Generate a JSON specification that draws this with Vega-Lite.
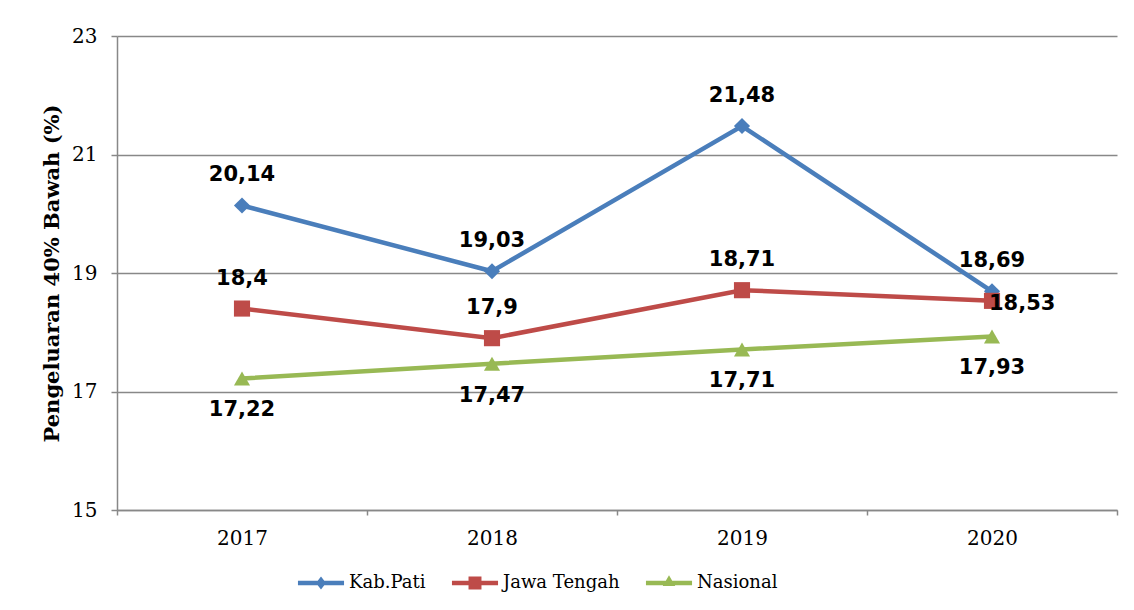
{
  "$schema": "https://vega.github.io/schema/vega-lite/v6.json",
  "width": 1000,
  "height": 474,
  "autosize": {"type": "none"},
  "padding": {"left": 117, "top": 36, "right": 17, "bottom": 100},
  "background": "white",
  "config": {
    "view": {"stroke": null},
    "font": "DejaVu Serif",
    "legend": {"labelFont": "DejaVu Serif", "labelFontSize": 18, "labelColor": "#000000"}
  },
  "data": {
    "values": [
      {"year": "2017", "series": "Kab.Pati", "value": 20.14, "label": "20,14"},
      {"year": "2018", "series": "Kab.Pati", "value": 19.03, "label": "19,03"},
      {"year": "2019", "series": "Kab.Pati", "value": 21.48, "label": "21,48"},
      {"year": "2020", "series": "Kab.Pati", "value": 18.69, "label": "18,69"},
      {"year": "2017", "series": "Jawa Tengah", "value": 18.4, "label": "18,4"},
      {"year": "2018", "series": "Jawa Tengah", "value": 17.9, "label": "17,9"},
      {"year": "2019", "series": "Jawa Tengah", "value": 18.71, "label": "18,71"},
      {"year": "2020", "series": "Jawa Tengah", "value": 18.53, "label": "18,53"},
      {"year": "2017", "series": "Nasional", "value": 17.22, "label": "17,22"},
      {"year": "2018", "series": "Nasional", "value": 17.47, "label": "17,47"},
      {"year": "2019", "series": "Nasional", "value": 17.71, "label": "17,71"},
      {"year": "2020", "series": "Nasional", "value": 17.93, "label": "17,93"}
    ]
  },
  "encoding": {
    "x": {
      "field": "year",
      "type": "ordinal",
      "scale": {"type": "band", "paddingInner": 0, "paddingOuter": 0},
      "axis": {
        "title": null,
        "labelAngle": 0,
        "tickBand": "extent",
        "domainColor": "#888888",
        "domainWidth": 1.5,
        "tickColor": "#888888",
        "tickWidth": 1.5,
        "tickSize": 5,
        "labelPadding": 13,
        "labelFont": "DejaVu Serif",
        "labelFontSize": 20,
        "labelColor": "#000000",
        "grid": false
      }
    },
    "y": {
      "field": "value",
      "type": "quantitative",
      "scale": {"domain": [15, 23], "nice": false, "zero": false},
      "axis": {
        "values": [15, 17, 19, 21, 23],
        "grid": true,
        "gridColor": "#888888",
        "gridWidth": 1.5,
        "domainColor": "#888888",
        "domainWidth": 1.5,
        "tickColor": "#888888",
        "tickWidth": 1.5,
        "tickSize": 6,
        "labelPadding": 14,
        "labelFont": "DejaVu Serif",
        "labelFontSize": 20,
        "labelColor": "#000000",
        "title": "Pengeluaran 40% Bawah (%)",
        "titleFont": "DejaVu Serif",
        "titleFontWeight": "bold",
        "titleFontSize": 21,
        "titleColor": "#000000",
        "titleX": -65,
        "titleY": 237,
        "titleAngle": 270,
        "titleBaseline": "middle",
        "titleAlign": "center"
      }
    }
  },
  "layer": [
    {
      "mark": {"type": "line", "strokeWidth": 4.5},
      "encoding": {
        "color": {
          "field": "series",
          "type": "nominal",
          "scale": {"domain": ["Kab.Pati", "Jawa Tengah", "Nasional"], "range": ["#4A7EBB", "#BE4B48", "#98B954"]},
          "legend": null
        }
      }
    },
    {
      "mark": {"type": "point", "filled": true, "opacity": 1},
      "encoding": {
        "color": {
          "field": "series",
          "type": "nominal",
          "scale": {"domain": ["Kab.Pati", "Jawa Tengah", "Nasional"], "range": ["#4A7EBB", "#BE4B48", "#98B954"]},
          "legend": null
        },
        "shape": {
          "field": "series",
          "type": "nominal",
          "scale": {"domain": ["Kab.Pati", "Jawa Tengah", "Nasional"], "range": ["diamond", "square", "triangle-up"]},
          "legend": null
        },
        "size": {
          "field": "series",
          "type": "ordinal",
          "scale": {"domain": ["Kab.Pati", "Jawa Tengah", "Nasional"], "range": [260, 260, 400]},
          "legend": null
        }
      }
    },
    {
      "transform": [{"filter": "datum.series !== 'Nasional' && !(datum.series === 'Jawa Tengah' && datum.year === '2020')"}],
      "mark": {"type": "text", "dy": -30, "font": "DejaVu Sans", "fontWeight": "bold", "fontSize": 21, "color": "#000000"},
      "encoding": {"text": {"field": "label"}}
    },
    {
      "transform": [{"filter": "datum.series === 'Nasional'"}],
      "mark": {"type": "text", "dy": 32, "font": "DejaVu Sans", "fontWeight": "bold", "fontSize": 21, "color": "#000000"},
      "encoding": {"text": {"field": "label"}}
    },
    {
      "transform": [{"filter": "datum.series === 'Jawa Tengah' && datum.year === '2020'"}],
      "mark": {"type": "text", "align": "left", "dx": -3, "dy": 3, "font": "DejaVu Sans", "fontWeight": "bold", "fontSize": 21, "color": "#000000"},
      "encoding": {"text": {"field": "label"}}
    },
    {
      "transform": [{"filter": "false"}],
      "mark": {"type": "point", "filled": true, "opacity": 1, "size": 2304, "strokeWidth": 0},
      "encoding": {
        "color": {
          "field": "series",
          "type": "nominal",
          "scale": {"domain": ["Kab.Pati", "Jawa Tengah", "Nasional"], "range": ["#4A7EBB", "#BE4B48", "#98B954"]},
          "legend": {
            "title": null,
            "orient": "none",
            "legendX": 180,
            "legendY": 523,
            "direction": "horizontal",
            "columns": 3,
            "columnPadding": 25,
            "padding": 0,
            "labelFont": "DejaVu Serif",
            "labelFontSize": 18,
            "labelColor": "#000000",
            "labelOffset": 4,
            "symbolSize": 2304,
            "symbolStrokeWidth": 0,
            "symbolOpacity": 1
          }
        },
        "shape": {
          "field": "series",
          "type": "nominal",
          "scale": {
            "domain": ["Kab.Pati", "Jawa Tengah", "Nasional"],
            "range": [
              "M-0.96,-0.09H0.96V0.09H-0.96Z M0,-0.27L0.21,0L0,0.27L-0.21,0Z",
              "M-0.96,-0.09H0.96V0.09H-0.96Z M-0.27,-0.27H0.27V0.27H-0.27Z",
              "M-0.96,-0.09H0.96V0.09H-0.96Z M0,-0.32L0.26,0.12H-0.26Z"
            ]
          },
          "legend": {
            "title": null,
            "orient": "none",
            "legendX": 180,
            "legendY": 523,
            "direction": "horizontal",
            "columns": 3,
            "columnPadding": 25,
            "padding": 0,
            "labelFont": "DejaVu Serif",
            "labelFontSize": 18,
            "labelColor": "#000000",
            "labelOffset": 4,
            "symbolSize": 2304,
            "symbolStrokeWidth": 0,
            "symbolOpacity": 1
          }
        }
      }
    }
  ],
  "resolve": {"scale": {"color": "independent", "shape": "independent", "size": "independent"}}
}
